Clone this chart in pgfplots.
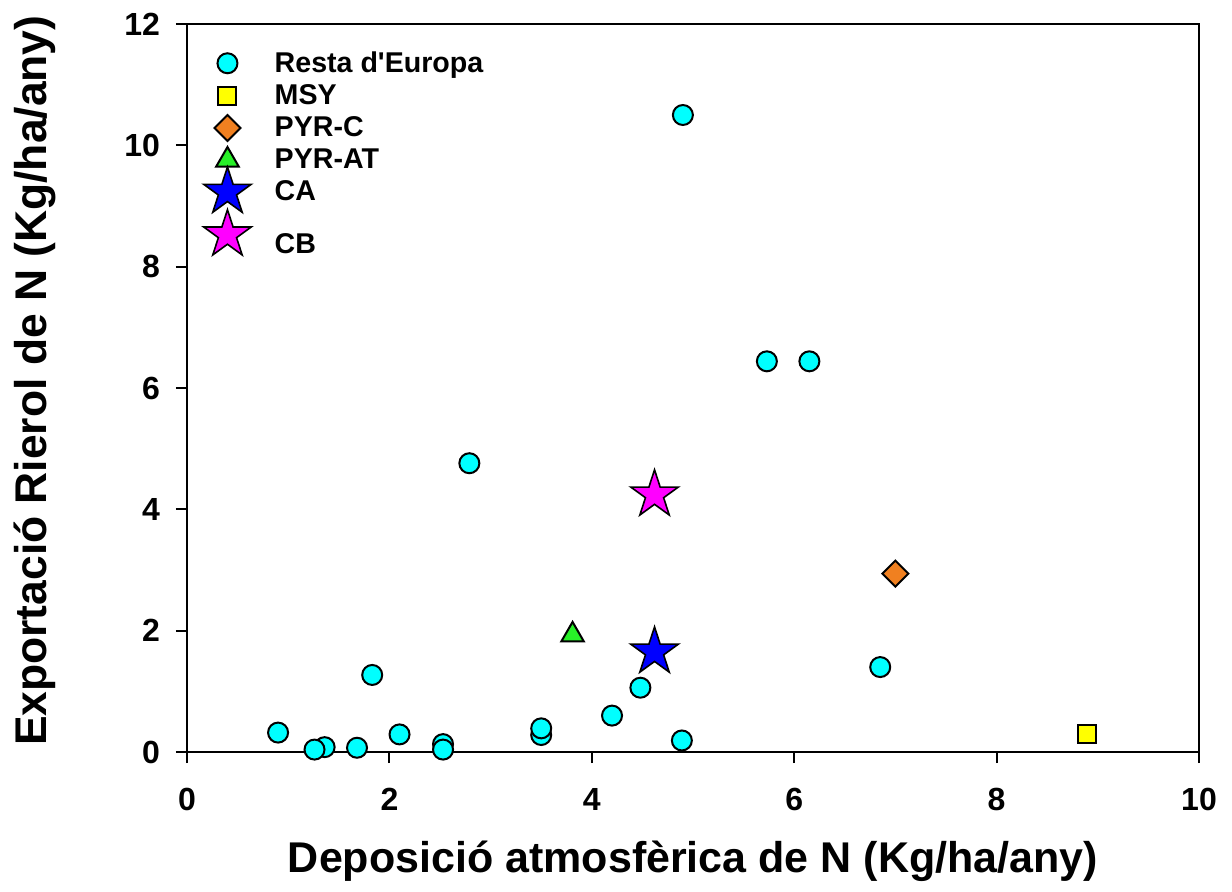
\documentclass[border=0pt]{standalone}
\usepackage{fontspec}
\setmainfont{Liberation Sans}
\usepackage{pgfplots}
\pgfplotsset{compat=1.18}

% filled five-pointed star
\pgfdeclareplotmark{fstar}{%
  \pgfpathmoveto{\pgfpointpolar{90}{\pgfplotmarksize}}%
  \pgfpathlineto{\pgfpointpolar{126}{0.382*\pgfplotmarksize}}%
  \pgfpathlineto{\pgfpointpolar{162}{\pgfplotmarksize}}%
  \pgfpathlineto{\pgfpointpolar{198}{0.382*\pgfplotmarksize}}%
  \pgfpathlineto{\pgfpointpolar{234}{\pgfplotmarksize}}%
  \pgfpathlineto{\pgfpointpolar{270}{0.382*\pgfplotmarksize}}%
  \pgfpathlineto{\pgfpointpolar{306}{\pgfplotmarksize}}%
  \pgfpathlineto{\pgfpointpolar{342}{0.382*\pgfplotmarksize}}%
  \pgfpathlineto{\pgfpointpolar{18}{\pgfplotmarksize}}%
  \pgfpathlineto{\pgfpointpolar{54}{0.382*\pgfplotmarksize}}%
  \pgfpathclose
  \pgfusepathqfillstroke
}

\definecolor{cCyan}{RGB}{0,255,255}
\definecolor{cYellow}{RGB}{255,255,0}
\definecolor{cOrange}{RGB}{240,128,32}
\definecolor{cGreen}{RGB}{40,240,40}
\definecolor{cBlue}{RGB}{0,0,255}
\definecolor{cMagenta}{RGB}{255,0,255}

\begin{document}
\begin{tikzpicture}
\begin{axis}[
  at={(93.5pt,69.5pt)}, anchor=south west,
  scale only axis, width=506pt, height=364pt,
  xmin=0, xmax=10, ymin=0, ymax=12,
  xtick={0,2,...,10}, ytick={0,2,...,12},
  tick align=outside, xtick pos=bottom, ytick pos=left,
  major tick length=5.5pt,
  axis line style={line width=1pt},
  every tick/.style={black, line width=1pt},
  ticklabel style={font=\fontsize{16}{18}\selectfont\bfseries},
  xticklabel style={yshift=-9pt},
  yticklabel style={xshift=-4.5pt},
  /pgf/number format/assume math mode=true,
  xlabel={Deposició atmosfèrica de N (Kg/ha/any)},
  ylabel={Exportació Rierol de N (Kg/ha/any)},
  x label style={at={(axis description cs:0.5,-0.15)}, anchor=center,
    font=\fontsize{21.5}{24}\selectfont\bfseries},
  y label style={at={(axis description cs:-0.15,0.51)}, anchor=center,
    font=\fontsize{22.2}{24}\selectfont\bfseries},
  clip=false,
  legend style={at={(axis description cs:0,1)}, anchor=north west,
    xshift=8.5pt, yshift=-9.5pt, draw=none, fill=none,
    font=\fontsize{14.3}{16}\selectfont\bfseries, row sep=0.6pt},
  legend cell align=left,
  legend image code/.code={%
    \path[draw=none,fill=none] (0cm,-0.12cm) rectangle (1.06cm,0.12cm);
    \draw[overlay,mark repeat=2,mark phase=2] plot coordinates {(0cm,0cm) (0.3cm,0cm) (0.6cm,0cm)};},
]
\addplot[only marks, mark=*, mark size=5pt, mark options={fill=cCyan, draw=black, line width=1pt}]
  coordinates {
  (0.90,0.32) (1.36,0.08) (1.26,0.04) (1.68,0.07) (1.83,1.27) (2.10,0.29)
  (2.53,0.13) (2.53,0.04) (2.79,4.76) (3.50,0.28) (3.50,0.39) (4.20,0.60)
  (4.48,1.06) (4.89,0.19) (4.90,10.50) (5.73,6.44) (6.15,6.44) (6.85,1.40)
  };
\addlegendentry{Resta d\textquotesingle Europa}
\addplot[only marks, mark=square*, mark size=4.5pt, mark options={fill=cYellow, draw=black, line width=1pt}]
  coordinates {(8.89,0.29)};
\addlegendentry{MSY}
\addplot[only marks, mark=square*, mark size=4.6pt, mark options={rotate=45, fill=cOrange, draw=black, line width=1pt}]
  coordinates {(7.00,2.94)};
\addlegendentry{PYR-C}
\addplot[only marks, mark=triangle*, mark size=6.5pt, mark options={fill=cGreen, draw=black, line width=1pt}]
  coordinates {(3.81,1.93)};
\addlegendentry{PYR-AT}
\addplot[only marks, mark=fstar, mark size=12.5pt, mark options={fill=cBlue, draw=black, line width=0.8pt}]
  coordinates {(4.62,1.65)};
\addlegendentry{CA}
\addplot[only marks, mark=fstar, mark size=12.5pt, mark options={fill=cMagenta, draw=black, line width=0.8pt}]
  coordinates {(4.62,4.24)};
\addlegendentry{\rule{0pt}{20.5pt}CB}
\end{axis}
\pgfresetboundingbox
\path[use as bounding box] (0,0) rectangle (616pt,445.5pt);
\end{tikzpicture}
\end{document}
